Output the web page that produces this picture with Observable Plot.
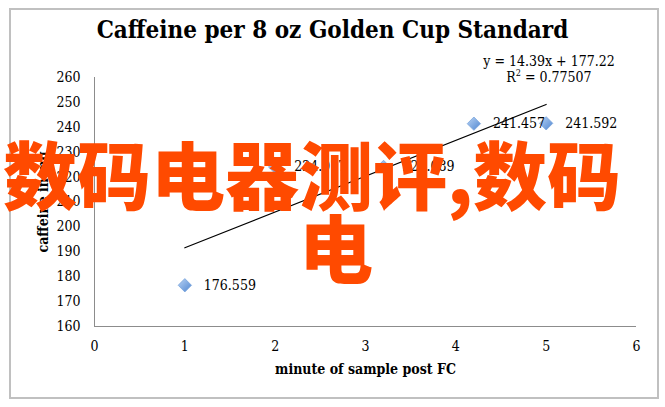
<!DOCTYPE html>
<html>
<head>
<meta charset="utf-8">
<script src="https://cdn.jsdelivr.net/npm/d3@7"></script>
<script src="https://cdn.jsdelivr.net/npm/@observablehq/plot@0.6"></script>
<style>
  html, body { margin: 0; padding: 0; background: #fff; }
  #wrap { position: relative; width: 665px; height: 407px; overflow: hidden;
          font-family: "DejaVu Serif Condensed", "DejaVu Serif", serif; font-stretch: condensed; color: #000; }
  #frame { position: absolute; left: 9px; top: 8px; width: 646px; height: 387px; border: 2px solid #c0c0c0; }
  #chart { position: absolute; left: 0; top: 0; }
  #title { position: absolute; left: 0; width: 665px; top: 15px; text-align: center;
           font-weight: bold; font-size: 24px; line-height: 30px; white-space: nowrap; }
  .eq { position: absolute; left: 449px; width: 200px; text-align: center; font-size: 14px; line-height: 16px; white-space: nowrap; }
  .wm { position: absolute; font-family: "Noto Sans CJK SC", sans-serif; font-weight: 900; font-size: 74px;
        line-height: 74px; color: #ff4a00; white-space: nowrap; font-stretch: normal; }
  #chart svg g[aria-label="x-axis label"] text, #chart svg g[aria-label="y-axis label"] text { font-weight: bold; }
</style>
</head>
<body>
<div id="wrap">
  <div id="frame"></div>
  <div id="chart"></div>
  <div id="title"></div>
  <div class="eq" id="eq1" style="top:53px"></div>
  <div class="eq" id="eq2" style="top:69px"></div>
  <div class="wm" id="wm1" style="left:3px; top:135px"></div>
  <div class="wm" id="wm2" style="left:299px; top:208px"></div>
</div>
<script>
// ---- data ----
const titleText = "Caffeine per 8 oz Golden Cup Standard";
const xLabel = "minute of sample post FC";
const yLabel = "caffeine in mg";
const minutes = [1, 2, 3.2, 4.2, 5];
const caffeine = [176.559, 224.077, 224.089, 241.457, 241.592];
const xTicks = [0, 1, 2, 3, 4, 5, 6];
const yTicks = [160, 170, 180, 190, 200, 210, 220, 230, 240, 250, 260];
const trendSlope = 14.39;
const trendIntercept = 177.22;
const rSquared = 0.77507;
const watermarkLines = ["数码电器测评,数码", "电"];

// ---- build ----
const points = minutes.map((m, i) => ({minute: m, caffeine: caffeine[i], label: caffeine[i].toFixed(3)}));
const trend = d3.extent(minutes).map(m => ({minute: m, caffeine: trendIntercept + trendSlope * m}));

const svg = Plot.plot({
  width: 665,
  height: 407,
  marginLeft: 94,
  marginRight: 29,
  marginTop: 77,
  marginBottom: 81,
  style: {fontFamily: '"DejaVu Serif Condensed", "DejaVu Serif", serif', fontSize: "14px", color: "#000", background: "transparent", overflow: "visible"},
  x: {domain: [0, 6], ticks: xTicks, tickFormat: d3.format("d"), tickSize: 0, tickPadding: 15, label: xLabel, labelAnchor: "center", labelOffset: 47, labelArrow: false},
  y: {domain: [160, 260], ticks: yTicks, tickFormat: d3.format("d"), tickSize: 0, tickPadding: 14, label: yLabel, labelAnchor: "center", labelOffset: 56, labelArrow: false},
  marks: [
    Plot.ruleX([0], {stroke: "#8c8c8c", strokeWidth: 1}),
    Plot.ruleY([160], {stroke: "#8c8c8c", strokeWidth: 1}),
    Plot.line(trend, {x: "minute", y: "caffeine", stroke: "#000", strokeWidth: 1.2}),
    Plot.dot(points, {x: "minute", y: "caffeine", symbol: "diamond2", r: 6, fill: "url(#dg)", stroke: "#7aa4dc", strokeWidth: 0.8}),
    Plot.text(points, {x: "minute", y: "caffeine", text: "label", textAnchor: "start", dx: 19, fontSize: 14})
  ]
});

// strip any arrow Plot may have added to axis labels
d3.select(svg).selectAll('g[aria-label$="axis label"] text').each(function() {
  this.textContent = this.textContent.replace(/\s*[→←↑↓]\s*/g, "");
});

const defs = d3.select(svg).insert("defs", ":first-child");
const grad = defs.append("linearGradient").attr("id", "dg").attr("x1", 0).attr("y1", 0).attr("x2", 1).attr("y2", 1);
grad.append("stop").attr("offset", "0%").attr("stop-color", "#b9d3f4");
grad.append("stop").attr("offset", "100%").attr("stop-color", "#4f86d1");

document.getElementById("chart").appendChild(svg);
document.getElementById("title").textContent = titleText;
document.getElementById("eq1").textContent = `y = ${trendSlope}x + ${trendIntercept}`;
document.getElementById("eq2").innerHTML = `R<sup style="font-size:9px;line-height:0">2</sup> = ${rSquared}`;
document.getElementById("wm1").textContent = watermarkLines[0];
document.getElementById("wm2").textContent = watermarkLines[1];
</script>
</body>
</html>
